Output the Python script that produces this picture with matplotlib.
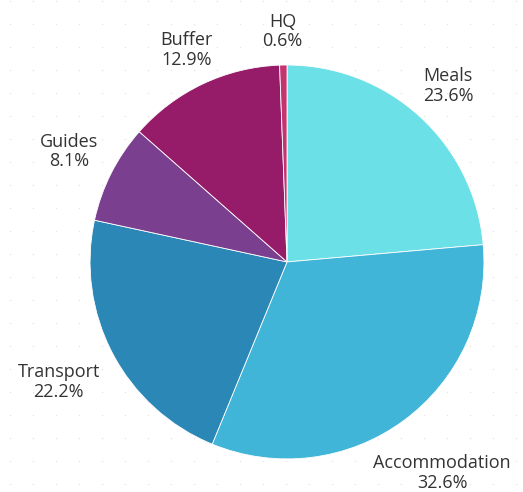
import matplotlib.pyplot as plt
import numpy as np

# budget split, clockwise from 12 o'clock
categories = ["Meals", "Accommodation", "Transport", "Guides", "Buffer", "HQ"]
shares = [23.6, 32.6, 22.2, 8.1, 12.9, 0.6]
colors = ["#6be0e6", "#41b5d7", "#2a87b6", "#7b3f8f", "#961c6a", "#c4346f"]
label_dist = [1.21, 1.33, 1.31, 1.24, 1.19, 1.17]

fig = plt.figure(figsize=(5.23, 4.92), dpi=100)
ax = fig.add_axes([0, 0, 1, 1])

wedges, _ = ax.pie(shares, colors=colors, startangle=90, counterclock=False,
                   radius=1.0, wedgeprops=dict(edgecolor="white", linewidth=0.6))
for w in wedges:
    w.set_zorder(2)

# pie() resets the limits, so set them afterwards
ax.set_xlim(-1.457, 1.198)
ax.set_ylim(-1.168, 1.330)
ax.set_aspect("equal")
ax.axis("off")

# faint dotted background
gx = np.arange(-1.457 + 0.05, 1.198, 23 / 197)
gy = np.arange(-1.168 + 0.04, 1.330, 23 / 197)
GX, GY = np.meshgrid(gx, gy)
ax.scatter(GX.ravel(), GY.ravel(), s=1.2, color="#e6e6e6", zorder=0, linewidths=0)

for w, name, val, d in zip(wedges, categories, shares, label_dist):
    mid = np.deg2rad((w.theta1 + w.theta2) / 2)
    x = d * np.cos(mid)
    y = d * np.sin(mid)
    ax.text(x, y, name + "\n" + "%.1f%%" % val, ha="center", va="center",
            fontsize=13, color="#333333", linespacing=1.1, family="Open Sans")

fig.savefig("out.png", dpi=100)
